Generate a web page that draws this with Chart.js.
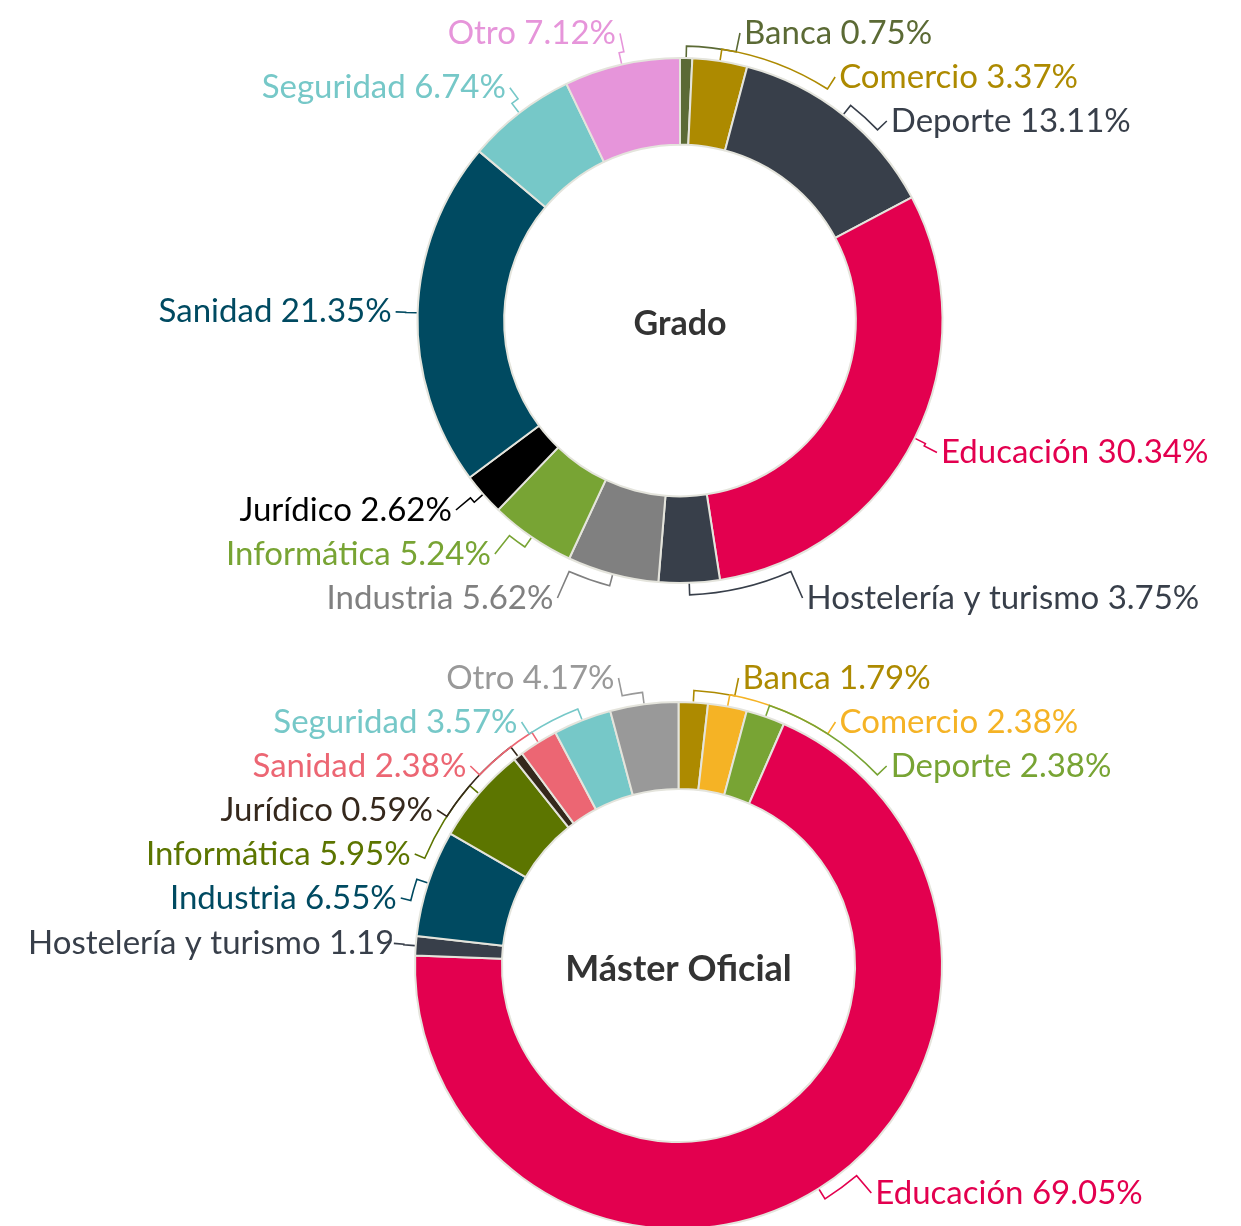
<!DOCTYPE html>
<html>
<head>
<meta charset="utf-8">
<script src="https://cdn.jsdelivr.net/npm/chart.js@4.4.1/dist/chart.umd.min.js"></script>
<style>
  html, body { margin: 0; padding: 0; background: #fff; overflow: hidden; }
  canvas { position: absolute; left: 0; }
</style>
</head>
<body>
<canvas id="grado" width="1241" height="645" style="top:0"></canvas>
<canvas id="master" width="1241" height="600" style="top:645px"></canvas>
<script>
// categories shared by both rings
var categories = ["Banca", "Comercio", "Deporte", "Educación", "Hostelería y turismo",
  "Industria", "Informática", "Jurídico", "Sanidad", "Seguridad", "Otro"];

// percentages
var gradoValues = [0.75, 3.37, 13.11, 30.34, 3.75, 5.62, 5.24, 2.62, 21.35, 6.74, 7.12];
var masterValues = [1.79, 2.38, 2.38, 69.05, 1.19, 6.55, 5.95, 0.59, 2.38, 3.57, 4.17];

var gradoColors = ['#5b6a35', '#ad8a00', '#383f4a', '#e3004f', '#383f4a',
  '#808080', '#78a434', '#000000', '#004a61', '#76c8c8', '#e695da'];
var masterColors = ['#ad8a00', '#f5b325', '#78a434', '#e3004f', '#383f4a',
  '#004a61', '#5c7500', '#35281c', '#ec6673', '#76c8c8', '#999999'];

var labelFont = '33px Lato';
var borderW = 2;

// labels outside the ring with leader lines
function outsideLabels(opts) {
  return {
    id: 'outsideLabels',
    afterDraw: function(chart) {
      var ctx = chart.ctx;
      var meta = chart.getDatasetMeta(0);
      var ds = chart.data.datasets[0];
      var items = [];
      meta.data.forEach(function(arc, i) {
        var p = arc.getProps(['x', 'y', 'startAngle', 'endAngle', 'outerRadius']);
        var mid = (p.startAngle + p.endAngle) / 2;
        items.push({
          i: i, mid: mid, cx: p.x, cy: p.y, R: p.outerRadius,
          right: Math.cos(mid) >= 0,
          y: p.y + (p.outerRadius + opts.yOff) * Math.sin(mid)
        });
      });

      // push overlapping labels apart, keep inside minY..maxY
      [true, false].forEach(function(side) {
        var list = items.filter(function(it) { return it.right === side; })
          .sort(function(a, b) { return a.y - b.y; });
        if (!list.length) return;
        list[0].y = Math.max(list[0].y, opts.minY);
        for (var k = 1; k < list.length; k++) {
          list[k].y = Math.max(list[k].y, list[k - 1].y + opts.lineGap);
        }
        var last = list[list.length - 1];
        last.y = Math.min(last.y, opts.maxY);
        for (var k = list.length - 2; k >= 0; k--) {
          list[k].y = Math.min(list[k].y, list[k + 1].y - opts.lineGap);
        }
      });

      ctx.save();
      ctx.font = labelFont;
      ctx.textBaseline = 'middle';
      ctx.lineWidth = 1.6;
      items.forEach(function(it) {
        var color = opts.textColors[it.i];
        var R = it.R;
        var dy = it.y - it.cy;
        var a = R + opts.aOff;
        var b = R + (dy > 0 ? opts.bOffLow : opts.bOff);
        var q = 1 - (dy / b) * (dy / b);
        var dx = Math.max(a * Math.sqrt(Math.max(q, 0)), opts.minDx);
        var ax = it.right ? it.cx + dx : it.cx - dx;
        var ay = it.y;
        var tl = Math.atan2(ay - it.cy, ax - it.cx);
        while (tl - it.mid > Math.PI) tl -= 2 * Math.PI;
        while (tl - it.mid < -Math.PI) tl += 2 * Math.PI;
        var rk = R + opts.tick;

        ctx.strokeStyle = color;
        ctx.beginPath();
        ctx.moveTo(it.cx + (R + 1) * Math.cos(it.mid), it.cy + (R + 1) * Math.sin(it.mid));
        ctx.lineTo(it.cx + rk * Math.cos(it.mid), it.cy + rk * Math.sin(it.mid));
        ctx.arc(it.cx, it.cy, rk, it.mid, tl, tl < it.mid);
        ctx.lineTo(ax, ay);
        ctx.stroke();

        ctx.fillStyle = color;
        var txt = chart.data.labels[it.i] + ' ' + ds.data[it.i].toFixed(2) + '%';
        if (it.right) {
          ctx.textAlign = 'left';
          ctx.fillText(txt, ax + 4, ay);
        } else {
          var w = ctx.measureText(txt).width;
          if (ax - 4 - w < opts.minX) {
            // no room: start at the margin and cut at the leader
            ctx.save();
            ctx.beginPath();
            ctx.rect(0, ay - 30, ax - 2, 60);
            ctx.clip();
            ctx.textAlign = 'left';
            ctx.fillText(txt, opts.minX, ay);
            ctx.restore();
          } else {
            ctx.textAlign = 'right';
            ctx.fillText(txt, ax - 4, ay);
          }
        }
      });

      // centre title
      var c = items[0];
      ctx.fillStyle = '#333333';
      ctx.textAlign = 'center';
      ctx.font = 'bold ' + opts.titleSize + 'px Lato';
      ctx.fillText(opts.title, c.cx, c.cy + 4);
      ctx.restore();
    }
  };
}

function makeRing(id, values, colors, title, titleSize, cx, cy, R, maxY) {
  var cv = document.getElementById(id);
  var W = cv.width, H = cv.height;
  var r = R + borderW / 2;
  new Chart(cv, {
    type: 'doughnut',
    data: {
      labels: categories,
      datasets: [{
        data: values,
        backgroundColor: colors,
        borderColor: '#e4e4dc',
        borderWidth: borderW,
        hoverOffset: 0
      }]
    },
    options: {
      responsive: false,
      animation: false,
      devicePixelRatio: 1,
      cutout: '67%',
      layout: {
        padding: { left: cx - r, right: W - cx - r, top: cy - r, bottom: H - cy - r }
      },
      plugins: {
        legend: { display: false },
        tooltip: { enabled: false }
      }
    },
    plugins: [outsideLabels({
      textColors: colors, title: title, titleSize: titleSize,
      yOff: 32, aOff: 22, bOff: 28, bOffLow: 45, minDx: 60, tick: 12,
      lineGap: 44, minY: 33, maxY: maxY, minX: 28
    })]
  });
}

makeRing('grado', gradoValues, gradoColors, 'Grado', 34, 680, 320.5, 262.5, 598);
makeRing('master', masterValues, masterColors, 'Máster Oficial', 36, 678.5, 320.5, 263.5, 548);
</script>
</body>
</html>
